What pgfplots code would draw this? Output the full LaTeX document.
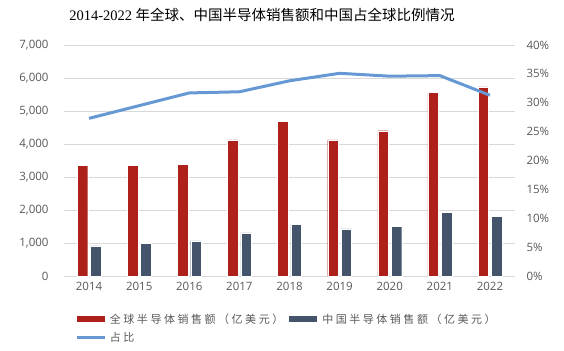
\documentclass[border=0pt]{standalone}
\usepackage{pgfplots}
\pgfplotsset{compat=1.18}
\usepackage{fontspec}
\setmainfont{Open Sans}
\newfontfamily\cjk{Noto Sans CJK SC}
\newfontfamily\cjkleg[LetterSpace=23]{Noto Sans CJK SC}
\newfontfamily\tnr{Liberation Serif}
\definecolor{cRed}{RGB}{174,33,26}
\definecolor{cNavy}{RGB}{68,84,106}
\definecolor{cLine}{RGB}{102,153,212}
\definecolor{cGrid}{RGB}{217,217,217}
\definecolor{cTick}{RGB}{89,89,89}
\begin{document}
\begin{tikzpicture}[x=1bp,y=1bp]
\path[use as bounding box] (0,0) rectangle (564,350);
\node[anchor=center] at (262,335) {\fontsize{14.5bp}{16bp}\selectfont{\tnr 2014-2022 }{\cjk 年全球、中国半导体销售额和中国占全球比例情况}};
\begin{axis}[
  at={(64bp,74bp)}, anchor=south west,
  width=451bp, height=231bp, scale only axis,
  xmin=-0.5, xmax=8.5, ymin=0, ymax=7000,
  ytick={0,1000,...,7000},
  xtick={0,...,8},
  xticklabels={2014,2015,2016,2017,2018,2019,2020,2021,2022},
  major tick length=0pt,
  axis line style={draw=none},
  ymajorgrids, grid style={cGrid, line width=0.8bp},
  tick label style={font=\fontsize{11.5bp}{13bp}\selectfont, text=cTick},
  /pgf/number format/assume math mode=true,
  /pgf/number format/1000 sep={,},
  yticklabel style={xshift=-12bp},
  xticklabel style={yshift=-3bp},
  legend columns=2,
  legend cell align=left,
  legend style={draw=none, fill=none, at={(rel axis cs:0.015,-0.145)}, anchor=north west,
    font=\cjkleg\fontsize{11bp}{13bp}\selectfont, text=cTick,
    row sep=4bp,
    /tikz/every even column/.append style={column sep=1bp}},
]
\addplot[ybar, bar width=0.21, bar shift=-0.133, fill=cRed, draw=white, line width=0.3bp, forget plot] coordinates {
(0,3358) (1,3352) (2,3389) (3,4122) (4,4688) (5,4123) (6,4404) (7,5559) (8,5735)};
\addplot[ybar, bar width=0.21, bar shift=0.133, fill=cNavy, draw=white, line width=0.3bp, forget plot] coordinates {
(0,916) (1,987) (2,1066) (3,1309) (4,1571) (5,1430) (6,1510) (7,1925) (8,1813)};
\addlegendimage{legend image code/.code={\draw[cRed,line width=6bp] (0bp,0bp) -- (28bp,0bp);}}
\addlegendentry{全球半导体销售额（亿美元）}
\addlegendimage{legend image code/.code={\draw[cNavy,line width=6bp] (0bp,0bp) -- (28bp,0bp);}}
\addlegendentry{中国半导体销售额（亿美元）}
\addlegendimage{legend image code/.code={\draw[cLine,line width=3bp] (0bp,0bp) -- (28bp,0bp);}}
\addlegendentry{占比}
\end{axis}
\begin{axis}[
  at={(64bp,74bp)}, anchor=south west,
  width=451bp, height=231bp, scale only axis,
  xmin=-0.5, xmax=8.5, ymin=0, ymax=40,
  ytick={0,5,...,40},
  yticklabel={\pgfmathprintnumber{\tick}\%},
  axis y line*=right,
  axis x line=none,
  axis line style={draw=none},
  major tick length=0pt,
  tick label style={font=\fontsize{11.5bp}{13bp}\selectfont, text=cTick},
  /pgf/number format/assume math mode=true,
  yticklabel style={xshift=8bp},
]
\addplot[cLine, line width=3bp, line join=round] coordinates {
(0,27.3) (1,29.5) (2,31.7) (3,31.9) (4,33.8) (5,35.1) (6,34.6) (7,34.7) (8,31.3)};
\end{axis}
\end{tikzpicture}
\end{document}
